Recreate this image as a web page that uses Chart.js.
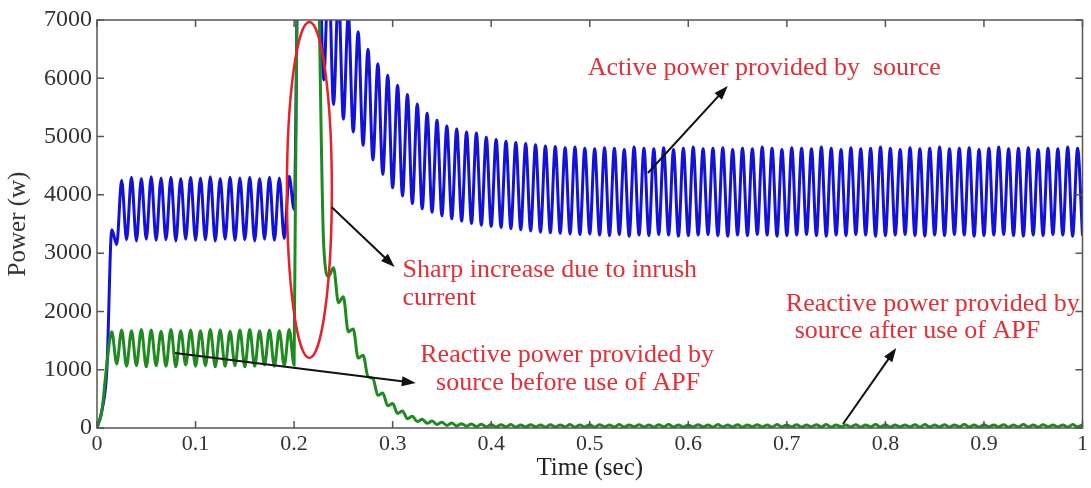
<!DOCTYPE html>
<html>
<head>
<meta charset="utf-8">
<script src="https://cdn.jsdelivr.net/npm/chart.js@4.4.0/dist/chart.umd.min.js"></script>
<style>
body{margin:0;background:#fff}
#caja{width:1091px;height:488px;position:relative}
</style>
</head>
<body>
<div id="caja"><canvas id="myChart"></canvas></div>
<script>
// muestras cada 0.005 s (picos y valles del rizado de 100 Hz)
const paso = 0.005

// potencia activa de la fuente (azul)
const activa = [
0,300,1000,3400,3150,4250,3230,4300,3210,4280,
3240,4310,3220,4290,3230,4300,3210,4280,3240,4300,
3220,4290,3230,4310,3210,4280,3240,4300,3220,4290,
3230,4300,3210,4280,3240,4300,3220,4290,3250,4320,
3750,9800,10500,10500,10000,9000,5970,7900,5550,7500,
5300,7100,5080,6800,4850,6500,4600,6250,4350,6050,
4120,5880,3980,5720,3850,5560,3760,5400,3700,5280,
3640,5180,3590,5130,3550,5080,3510,5060,3480,4990,
3460,4950,3440,4920,3420,4900,3400,4880,3380,4860,
3360,4840,3350,4830,3340,4810,3330,4820,3320,4800,
3330,
4790,3310,4810,3300,4800,3320,4780,3290,4820,3310,
4800,3300,4790,3320,4810,3310,4780,3290,4800,3300,
4820,3310,4790,3320,4800,3300,4810,3290,4780,3310,
4800,3300,4790,3320,4820,3310,4800,3290,4780,3300,
4810,3310,4800,3320,4790,3300,4820,3290,4800,3310,
4780,3300,4810,3320,4790,3310,4800,3290,4820,3300,
4800,3310,4780,3320,4810,3300,4790,3290,4800,3310,
4820,3300,4790,3320,4800,3310,4810,3290,4780,3300,
4800,3310,4820,3320,4790,3300,4800,3290,4810,3310,
4780,3300,4800,3320,4790,3310,4820,3290,4800,3300
]

// potencia reactiva de la fuente (verde)
const reactiva = [
0,300,1100,1650,1100,1680,1060,1670,1070,1690,
1050,1680,1070,1660,1060,1690,1050,1670,1080,1680,
1060,1670,1070,1690,1050,1680,1060,1660,1070,1680,
1050,1690,1060,1670,1080,1680,1060,1670,1070,1690,
1080,12000,13000,13000,12000,7600,3150,2600,2750,2150,
2250,1650,1700,1200,1250,880,850,560,600,380,
420,250,290,160,200,110,150,80,120,60,
100,45,85,35,75,30,70,25,65,20,
60,18,55,20,58,15,52,18,55,20,
50,15,55,18,52,20,58,15,50,18,
55,
15,55,20,50,18,58,15,52,20,55,
18,50,15,55,20,58,18,52,15,50,
20,55,18,52,15,58,20,50,18,55,
15,52,20,55,18,50,15,58,20,52,
18,55,15,50,20,55,18,58,15,52,
20,50,18,55,15,52,20,58,18,55,
15,50,20,52,18,55,15,58,20,50,
18,55,15,52,20,58,18,50,15,55,
20,52,18,55,15,50,20,58,18,52,
15,55,20,50,18,52,15,58,20,55
]

const etiquetasX = ['0','0.1','0.2','0.3','0.4','0.5','0.6','0.7','0.8','0.9','1']
const etiquetasY = ['0','1000','2000','3000','4000','5000','6000','7000']

// anotaciones en unidades de los ejes (tiempo, potencia)
const textos = ['Active power provided by  source','Sharp increase due to inrush','current',
  'Reactive power provided by','source before use of APF',
  'Reactive power provided by','source after use of APF']
const textosT = [0.498,0.310,0.310,0.328,0.344,0.699,0.708]
const textosP = [6057,2591,2111,1133,653,2008,1545]
// flechas: t inicio, p inicio, t punta, p punta
const flechas = [[0.559,4375,0.640,5868],[0.238,3792,0.302,2763],[0.079,1287,0.3235,773],[0.757,69,0.811,1373]]
// elipse: t centro, p centro, radio t, radio p
const elipse = [0.2155,4084,0.0228,2882]

const puntosA = activa.map((p,i)=>({x:i*paso,y:p}))
const puntosR = reactiva.map((p,i)=>({x:i*paso,y:p}))

const gris = '#555'
const rojo = '#e23038'

const marco = {
  id:'marco',
  afterDatasetsDraw(chart){
    const c = chart.ctx
    const a = chart.chartArea
    const sx = chart.scales.x
    const sy = chart.scales.y
    c.save()
    // caja y marcas hacia adentro
    c.strokeStyle = gris
    c.lineWidth = 1.5
    c.strokeRect(a.left,a.top,a.right-a.left,a.bottom-a.top)
    c.beginPath()
    sx.ticks.forEach(t=>{
      const px = sx.getPixelForValue(t.value)
      c.moveTo(px,a.bottom); c.lineTo(px,a.bottom-7)
      c.moveTo(px,a.top); c.lineTo(px,a.top+7)
    })
    sy.ticks.forEach(t=>{
      const py = sy.getPixelForValue(t.value)
      c.moveTo(a.left,py); c.lineTo(a.left+7,py)
      c.moveTo(a.right,py); c.lineTo(a.right-7,py)
    })
    c.stroke()

    // elipse roja
    const ex = sx.getPixelForValue(elipse[0])
    const ey = sy.getPixelForValue(elipse[1])
    const rx = sx.getPixelForValue(elipse[0]+elipse[2])-ex
    const ry = ey-sy.getPixelForValue(elipse[1]+elipse[3])
    c.strokeStyle = '#e8202a'
    c.lineWidth = 2.5
    c.beginPath()
    c.ellipse(ex,ey,rx,ry,0,0,Math.PI*2)
    c.stroke()

    // flechas negras
    c.strokeStyle = '#111'
    c.fillStyle = '#111'
    c.lineWidth = 2
    flechas.forEach(f=>{
      const x1 = sx.getPixelForValue(f[0]), y1 = sy.getPixelForValue(f[1])
      const x2 = sx.getPixelForValue(f[2]), y2 = sy.getPixelForValue(f[3])
      const ang = Math.atan2(y2-y1,x2-x1)
      c.beginPath()
      c.moveTo(x1,y1)
      c.lineTo(x2-10*Math.cos(ang),y2-10*Math.sin(ang))
      c.stroke()
      c.beginPath()
      c.moveTo(x2,y2)
      c.lineTo(x2-14*Math.cos(ang)+5*Math.sin(ang),y2-14*Math.sin(ang)-5*Math.cos(ang))
      c.lineTo(x2-14*Math.cos(ang)-5*Math.sin(ang),y2-14*Math.sin(ang)+5*Math.cos(ang))
      c.closePath()
      c.fill()
    })

    // textos rojos
    c.fillStyle = rojo
    c.font = '26px "Liberation Serif"'
    c.textAlign = 'left'
    c.textBaseline = 'alphabetic'
    textos.forEach((t,i)=>{
      c.fillText(t,sx.getPixelForValue(textosT[i]),sy.getPixelForValue(textosP[i]))
    })
    c.restore()
  }
}

const ctx = document.getElementById('myChart')
const mychart = new Chart(ctx,{
  type:'line',
  data:{
    datasets:[
      {label:'Reactive power', data:puntosR, borderColor:'#1f8a1f', borderWidth:3, pointRadius:0,
        cubicInterpolationMode:'monotone', order:0},
      {label:'Active power', data:puntosA, borderColor:'#1212d8', borderWidth:3, pointRadius:0,
        cubicInterpolationMode:'monotone', order:1}
    ]
  },
  options:{
    responsive:true,
    maintainAspectRatio:false,
    animation:false,
    layout:{padding:{top:20,right:8,left:0,bottom:0}},
    plugins:{legend:{display:false},tooltip:{enabled:false}},
    scales:{
      x:{
        type:'linear', min:0, max:1,
        grid:{display:false,drawTicks:false}, border:{display:false},
        ticks:{stepSize:0.1, autoSkip:false, maxRotation:0, padding:3, color:'#333',
          font:{family:'Liberation Serif',size:22},
          callback:(v,i)=>etiquetasX[i]},
        title:{display:true,text:'Time (sec)',color:'#222',padding:{top:0,bottom:5},
          font:{family:'Liberation Serif',size:25}},
        afterFit:(s)=>{ s.height = 60 }
      },
      y:{
        min:0, max:7000,
        grid:{display:false,drawTicks:false}, border:{display:false},
        ticks:{stepSize:1000, padding:5, color:'#333',
          font:{family:'Liberation Serif',size:24},
          callback:(v,i)=>etiquetasY[i]},
        title:{display:true,text:'Power (w)',color:'#333',padding:{top:3,bottom:0},
          font:{family:'Liberation Serif',size:25}},
        afterFit:(s)=>{ s.width = 97 }
      }
    }
  },
  plugins:[marco]
})
</script>
</body>
</html>
